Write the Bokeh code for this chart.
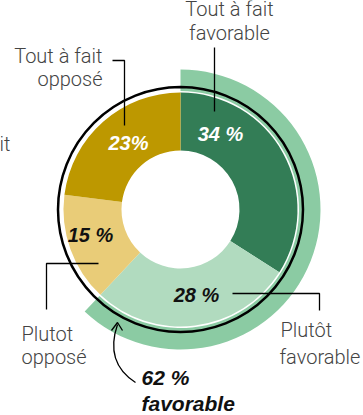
import math
from bokeh.plotting import figure
from bokeh.models import Range1d
from bokeh.core.properties import value
from bokeh.embed import file_html
from bokeh.resources import INLINE

# ---- data ----
categories = ["Tout à fait favorable", "Plutôt favorable", "Plutot opposé", "Tout à fait opposé"]
values = [34, 28, 15, 23]
value_labels = ["34 %", "28 %", "15 %", "23%"]
colors = ["#337d56", "#b1dbbf", "#e9cc78", "#bd9800"]
label_colors = ["white", "#111111", "#111111", "white"]
favorable_total = values[0] + values[1]
favorable_label = ["62 %", "favorable"]

W, H = 363, 415
CX, CY = 180, H - 209   # donut centre (y up)
TB = 8  # baseline correction for text

def Y(y):  # screen y -> data y
    return H - y

def TY(y):  # text baseline screen y -> data y
    return H - (y - TB)

p = figure(width=W, height=H, output_backend="svg", toolbar_location=None,
           x_range=Range1d(0, W), y_range=Range1d(0, H), min_border=0,
           outline_line_color=None, background_fill_color="white")
p.axis.visible = False
p.grid.visible = False

total = sum(values)
starts, ends = [], []
cum = 0
for v in values:
    starts.append(math.pi / 2 - 2 * math.pi * cum / total)
    cum += v
    ends.append(math.pi / 2 - 2 * math.pi * cum / total)

# favorable band
p.annular_wedge(x=CX, y=CY, inner_radius=118.5, outer_radius=140,
                start_angle=math.pi / 2,
                end_angle=math.pi / 2 - 2 * math.pi * favorable_total / total,
                direction="clock", fill_color="#8bcba3", line_color=None)

# donut
p.annular_wedge(x=[CX] * 4, y=[CY] * 4, inner_radius=59, outer_radius=117,
                start_angle=starts, end_angle=ends, direction="clock",
                fill_color=colors, line_color=None)

# black ring
p.circle(x=CX, y=CY, radius=122.5, fill_color=None, line_color="black", line_width=2.5)

# value labels
num_font = value("Liberation Sans")
lab_pos = [(220, 141), (196, 302), (90, 242), (128, 150)]
for (lx, ly), t, c in zip(lab_pos, value_labels, label_colors):
    p.text(x=[lx], y=[TY(ly)], text=[t], text_color=c, text_font=num_font,
           text_font_size="20px", text_font_style="bold italic",
           text_align="center", text_baseline="alphabetic")

# category labels
cat_font = value("'Roboto Light', Roboto, sans-serif")
gray = "#444444"
def lab(x, y, t, align):
    p.text(x=[x], y=[TY(y)], text=[t], text_color=gray, text_font=cat_font,
           text_font_size="20px", text_align=align, text_baseline="alphabetic")

# Tout à fait favorable
lab(229, 16, "Tout à fait", "center")
lab(229, 40, "favorable", "center")
p.line([214, 214], [Y(47), Y(111)], line_color="black", line_width=1.3)

# Tout à fait opposé
lab(102, 63, "Tout à fait", "right")
lab(102, 86, "opposé", "right")
p.line([112, 124, 124], [Y(60), Y(60), Y(125)], line_color="black", line_width=1.3)

# clipped label at left edge
lab(10, 151, "Tout à fait", "right")

# Plutot opposé
lab(21, 341, "Plutot", "left")
lab(21, 364, "opposé", "left")
p.line([98, 46, 46], [Y(263), Y(263), Y(309)], line_color="black", line_width=1.3)

# Plutôt favorable
lab(280, 337, "Plutôt", "left")
lab(279, 364, "favorable", "left")
p.line([232, 319, 319], [Y(293), Y(293), Y(310)], line_color="black", line_width=1.3)

# 62 % favorable
p.text(x=[141, 141], y=[TY(385), TY(411)], text=favorable_label, text_color="#111111",
       text_font=num_font, text_font_size="21px", text_font_style="bold italic",
       text_align="left", text_baseline="alphabetic")

# arrow
p.quadratic(x0=[135], y0=[Y(382)], x1=[117], y1=[Y(324)], cx=[104], cy=[Y(362)],
            line_color="black", line_width=1.3)
p.line([111, 117, 122], [Y(330), Y(322), Y(330)], line_color="black", line_width=1.3)

open("out.html", "w").write(file_html(p, INLINE))
